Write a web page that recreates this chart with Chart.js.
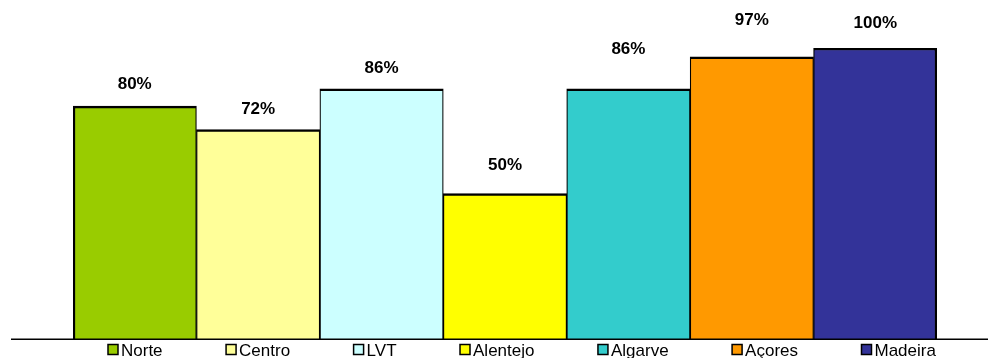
<!DOCTYPE html>
<html lang="pt">
<head>
<meta charset="UTF-8">
<title>Regiões</title>
<script src="https://cdn.jsdelivr.net/npm/chart.js"></script>
<style>
    body { margin: 0; background: #fff; }
    .grafico { width: 988px; height: 358px; position: relative; }
</style>
</head>
<body>
<div class="grafico">
    <canvas id="grafico1"></canvas>
</div>
<script>
const regioes = ['Norte', 'Centro', 'LVT', 'Alentejo', 'Algarve', 'Açores', 'Madeira'];
const valores = [80, 72, 86, 50, 86, 97, 100];
const cores = ['#99CC00', '#FFFF99', '#CCFFFF', '#FFFF00', '#33CCCC', '#FF9900', '#333399'];

// distancia (px) entre o topo da barra e o rotulo
const afastRotulo = [22, 20, 20, 28, 39, 36, 25];

const fonte = '"Liberation Sans", Arial, sans-serif';

// rotulos de percentagem por cima das barras
const rotulos = {
    id: 'rotulos',
    afterDatasetsDraw(chart) {
        const ctx = chart.ctx;
        const meta = chart.getDatasetMeta(0);
        ctx.save();
        ctx.font = 'bold 17px ' + fonte;
        ctx.fillStyle = '#000';
        ctx.textAlign = 'center';
        ctx.textBaseline = 'middle';
        meta.data.forEach((bar, i) => {
            ctx.fillText(valores[i] + '%', bar.x, bar.y - afastRotulo[i]);
        });
        ctx.restore();
    }
};

// linha de base e legenda em baixo
const baseELegenda = {
    id: 'baseELegenda',
    afterDraw(chart) {
        const ctx = chart.ctx;
        const area = chart.chartArea;
        ctx.save();
        ctx.strokeStyle = '#000';
        ctx.lineWidth = 1.5;
        ctx.beginPath();
        ctx.moveTo(11, area.bottom + 0.25);
        ctx.lineTo(chart.width, area.bottom + 0.25);
        ctx.stroke();

        ctx.font = '17px ' + fonte;
        ctx.textBaseline = 'alphabetic';
        ctx.textAlign = 'left';
        let x = 108;
        regioes.forEach((r, i) => {
            ctx.fillStyle = cores[i];
            ctx.fillRect(x, 344.5, 10, 10);
            ctx.lineWidth = 1.5;
            ctx.strokeRect(x, 344.5, 10, 10);
            ctx.fillStyle = '#000';
            ctx.fillText(r, x + 13, 355.5);
            x += 13 + ctx.measureText(r).width + 63.5;
        });
        ctx.restore();
    }
};

const ultimo = valores.length - 1;

const config = {
    type: 'bar',
    data: {
        labels: regioes,
        datasets: [{
            data: valores,
            backgroundColor: cores,
            borderColor: '#000',
            borderWidth: c => ({
                top: 2.5,
                left: c.dataIndex === 0 ? 2.5 : 1.25,
                right: c.dataIndex === ultimo ? 2.5 : 1.25,
                bottom: 0
            }),
            borderSkipped: 'bottom',
            categoryPercentage: 1,
            barPercentage: 1
        }]
    },
    options: {
        responsive: true,
        maintainAspectRatio: false,
        animation: false,
        layout: {
            padding: { left: 73, right: 51, top: 48, bottom: 19 }
        },
        plugins: {
            legend: { display: false },
            tooltip: { enabled: false }
        },
        scales: {
            x: { display: false },
            y: { display: false, min: 0, max: 100 }
        }
    },
    plugins: [rotulos, baseELegenda]
};

new Chart(document.getElementById('grafico1'), config);
</script>
</body>
</html>
